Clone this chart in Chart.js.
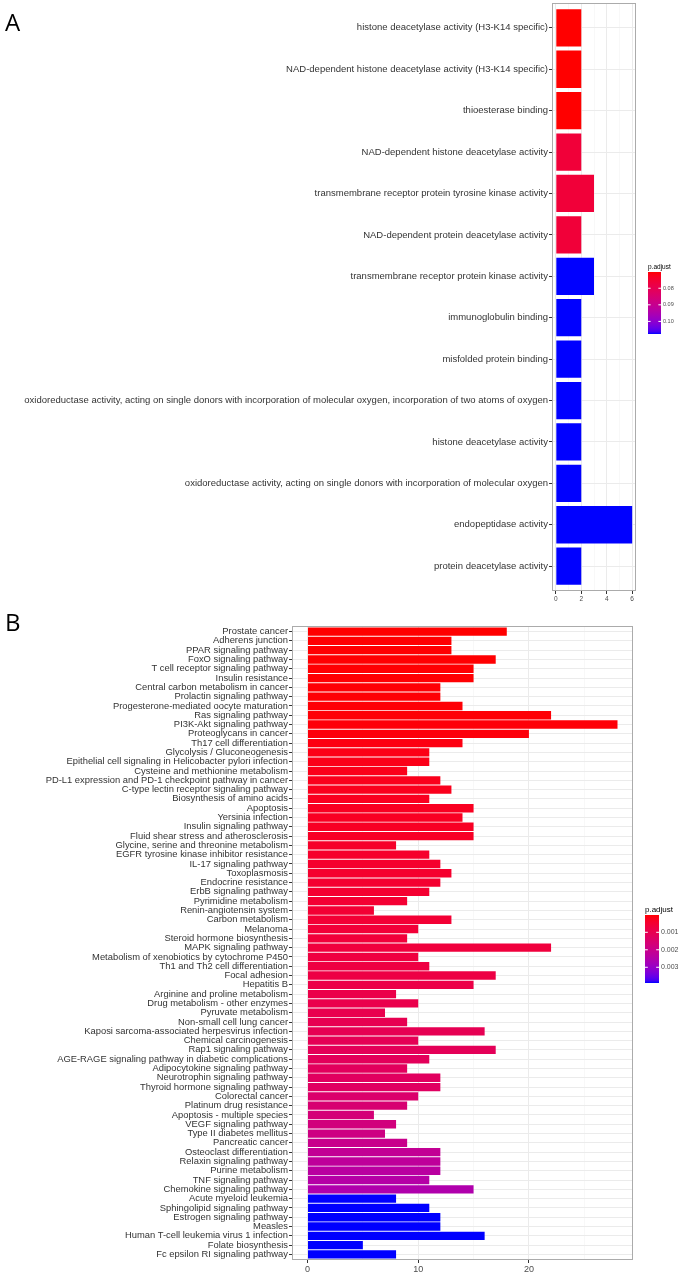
<!DOCTYPE html>
<html>
<head>
<meta charset="utf-8">
<script src="https://cdn.jsdelivr.net/npm/chart.js@4.4.1/dist/chart.umd.min.js"></script>
<style>
  html, body { margin: 0; padding: 0; background: #fff; }
  body { width: 681px; height: 1274px; position: relative; overflow: hidden; }
  .panel { position: absolute; left: 0; width: 681px; }
  .tag { position: absolute; left: 5px; font: 24px "Open Sans", sans-serif; line-height: 1; color: #000; }
</style>
</head>
<body>
<div class="panel" style="top:0;height:606px"><canvas id="chartA"></canvas></div>
<div class="panel" style="top:606px;height:668px"><canvas id="chartB"></canvas></div>
<div class="tag" style="top:10px">A</div>
<div class="tag" style="top:610px">B</div>
<script>
// ---- panel A: GO terms ----
var goTerms = [
    "histone deacetylase activity (H3-K14 specific)",
    "NAD-dependent histone deacetylase activity (H3-K14 specific)",
    "thioesterase binding",
    "NAD-dependent histone deacetylase activity",
    "transmembrane receptor protein tyrosine kinase activity",
    "NAD-dependent protein deacetylase activity",
    "transmembrane receptor protein kinase activity",
    "immunoglobulin binding",
    "misfolded protein binding",
    "oxidoreductase activity, acting on single donors with incorporation of molecular oxygen, incorporation of two atoms of oxygen",
    "histone deacetylase activity",
    "oxidoreductase activity, acting on single donors with incorporation of molecular oxygen",
    "endopeptidase activity",
    "protein deacetylase activity"
];
var goCounts = [2, 2, 2, 2, 3, 2, 3, 2, 2, 2, 2, 2, 6, 2];
var goPadj = [0.0702, 0.0702, 0.0702, 0.0760, 0.0760, 0.0760, 0.1076, 0.1076,
              0.1076, 0.1076, 0.1076, 0.1076, 0.1076, 0.1076];
var goTicks = [0, 2, 4, 6];
var goLegendTicks = [0.08, 0.09, 0.10];

// ---- panel B: KEGG pathways ----
var keggPathways = [
    "Prostate cancer", "Adherens junction", "PPAR signaling pathway", "FoxO signaling pathway",
    "T cell receptor signaling pathway", "Insulin resistance", "Central carbon metabolism in cancer",
    "Prolactin signaling pathway", "Progesterone-mediated oocyte maturation", "Ras signaling pathway",
    "PI3K-Akt signaling pathway", "Proteoglycans in cancer", "Th17 cell differentiation",
    "Glycolysis / Gluconeogenesis", "Epithelial cell signaling in Helicobacter pylori infection",
    "Cysteine and methionine metabolism", "PD-L1 expression and PD-1 checkpoint pathway in cancer",
    "C-type lectin receptor signaling pathway", "Biosynthesis of amino acids", "Apoptosis",
    "Yersinia infection", "Insulin signaling pathway", "Fluid shear stress and atherosclerosis",
    "Glycine, serine and threonine metabolism", "EGFR tyrosine kinase inhibitor resistance",
    "IL-17 signaling pathway", "Toxoplasmosis", "Endocrine resistance", "ErbB signaling pathway",
    "Pyrimidine metabolism", "Renin-angiotensin system", "Carbon metabolism", "Melanoma",
    "Steroid hormone biosynthesis", "MAPK signaling pathway",
    "Metabolism of xenobiotics by cytochrome P450", "Th1 and Th2 cell differentiation",
    "Focal adhesion", "Hepatitis B", "Arginine and proline metabolism",
    "Drug metabolism - other enzymes", "Pyruvate metabolism", "Non-small cell lung cancer",
    "Kaposi sarcoma-associated herpesvirus infection", "Chemical carcinogenesis",
    "Rap1 signaling pathway", "AGE-RAGE signaling pathway in diabetic complications",
    "Adipocytokine signaling pathway", "Neurotrophin signaling pathway",
    "Thyroid hormone signaling pathway", "Colorectal cancer", "Platinum drug resistance",
    "Apoptosis - multiple species", "VEGF signaling pathway", "Type II diabetes mellitus",
    "Pancreatic cancer", "Osteoclast differentiation", "Relaxin signaling pathway",
    "Purine metabolism", "TNF signaling pathway", "Chemokine signaling pathway",
    "Acute myeloid leukemia", "Sphingolipid signaling pathway", "Estrogen signaling pathway",
    "Measles", "Human T-cell leukemia virus 1 infection", "Folate biosynthesis",
    "Fc epsilon RI signaling pathway"
];
var keggCounts = [18, 13, 13, 17, 15, 15, 12, 12, 14, 22, 28, 20, 14, 11, 11, 9, 12, 13, 11, 15,
                  14, 15, 15, 8, 11, 12, 13, 12, 11, 9, 6, 13, 10, 9, 22, 10, 11, 17, 15, 8,
                  10, 7, 9, 16, 10, 17, 11, 9, 12, 12, 10, 9, 6, 8, 7, 9, 12, 12, 12, 11,
                  15, 8, 11, 12, 12, 16, 5, 8];
var keggPadj = [0.00001, 0.00002, 0.00002, 0.00002, 0.00003, 0.00003, 0.00004, 0.00004,
                0.00005, 0.00005, 0.00006, 0.00008, 0.00012, 0.00016, 0.00018, 0.00020,
                0.00022, 0.00024, 0.00026, 0.00028, 0.00030, 0.00032, 0.00034, 0.00040,
                0.00042, 0.00044, 0.00046, 0.00048, 0.00050, 0.00052, 0.00054, 0.00056,
                0.00060, 0.00064, 0.00068, 0.00072, 0.00076, 0.00080, 0.00084, 0.00088,
                0.00092, 0.00096, 0.00100, 0.00104, 0.00108, 0.00112, 0.00116, 0.00120,
                0.00124, 0.00128, 0.00145, 0.00155, 0.00165, 0.00175, 0.00185, 0.00200,
                0.00215, 0.00225, 0.00235, 0.00245, 0.00255, 0.00390, 0.00390, 0.00390,
                0.00390, 0.00390, 0.00390, 0.00390];
var keggTicks = [0, 10, 20];
var keggLegendTicks = [0.001, 0.002, 0.003];

// red -> blue ramp interpolated in CIELAB (like ggplot's gradient)
function toLinear(c) { c = c / 255; return c <= 0.04045 ? c / 12.92 : Math.pow((c + 0.055) / 1.055, 2.4); }
function fromLinear(c) {
    c = Math.max(0, Math.min(1, c));
    return Math.round(255 * (c <= 0.0031308 ? 12.92 * c : 1.055 * Math.pow(c, 1 / 2.4) - 0.055));
}
function rgbToLab(rgb) {
    var r = toLinear(rgb[0]), g = toLinear(rgb[1]), b = toLinear(rgb[2]);
    var x = (0.4124 * r + 0.3576 * g + 0.1805 * b) / 0.95047;
    var y = 0.2126 * r + 0.7152 * g + 0.0722 * b;
    var z = (0.0193 * r + 0.1192 * g + 0.9505 * b) / 1.08883;
    var f = function (t) { return t > 0.008856 ? Math.cbrt(t) : 7.787 * t + 16 / 116; };
    return [116 * f(y) - 16, 500 * (f(x) - f(y)), 200 * (f(y) - f(z))];
}
function labToRgb(lab) {
    var fy = (lab[0] + 16) / 116, fx = fy + lab[1] / 500, fz = fy - lab[2] / 200;
    var inv = function (t) { return t > 0.206893 ? t * t * t : (t - 16 / 116) / 7.787; };
    var x = inv(fx) * 0.95047, y = inv(fy), z = inv(fz) * 1.08883;
    var r = 3.2406 * x - 1.5372 * y - 0.4986 * z;
    var g = -0.9689 * x + 1.8758 * y + 0.0415 * z;
    var b = 0.0557 * x - 0.2040 * y + 1.0570 * z;
    return 'rgb(' + fromLinear(r) + ',' + fromLinear(g) + ',' + fromLinear(b) + ')';
}
var LOW = rgbToLab([255, 0, 0]), HIGH = rgbToLab([0, 0, 255]);
function rampColor(t) {
    return labToRgb([0, 1, 2].map(function (k) { return LOW[k] + (HIGH[k] - LOW[k]) * t; }));
}

var FONT = '"Liberation Sans", Arial, sans-serif';

// panel border drawn on top, like theme_bw
var framePlugin = {
    id: 'frame',
    afterDatasetsDraw: function (chart) {
        var a = chart.chartArea, ctx = chart.ctx;
        ctx.save();
        ctx.strokeStyle = '#ABABAB';
        ctx.lineWidth = 1;
        ctx.strokeRect(a.left + 0.5, a.top + 0.5, a.right - a.left - 1, a.bottom - a.top - 1);
        ctx.restore();
    }
};

// p.adjust colour bar
var colorbarPlugin = {
    id: 'colorbar',
    afterDraw: function (chart, args, o) {
        var ctx = chart.ctx;
        ctx.save();
        var grad = ctx.createLinearGradient(0, o.y, 0, o.y + o.h);
        for (var i = 0; i <= 30; i++) grad.addColorStop(i / 30, rampColor(i / 30));
        ctx.fillStyle = grad;
        ctx.fillRect(o.x, o.y, o.w, o.h);

        ctx.fillStyle = '#000';
        ctx.font = o.titleSize + 'px ' + FONT;
        ctx.textAlign = 'left';
        ctx.textBaseline = 'alphabetic';
        ctx.fillText('p.adjust', o.x, o.y - o.titleGap);

        ctx.font = o.labelSize + 'px ' + FONT;
        ctx.fillStyle = '#4D4D4D';
        ctx.textBaseline = 'middle';
        ctx.strokeStyle = '#fff';
        ctx.lineWidth = 1;
        o.ticks.forEach(function (v) {
            var yy = o.y + (v - o.min) / (o.max - o.min) * o.h;
            ctx.beginPath();
            ctx.moveTo(o.x, yy); ctx.lineTo(o.x + o.w / 5, yy);
            ctx.moveTo(o.x + o.w, yy); ctx.lineTo(o.x + o.w * 4 / 5, yy);
            ctx.stroke();
            ctx.fillText(v.toFixed(o.digits), o.x + o.w + 2, yy);
        });
        ctx.restore();
    }
};

function makeChart(id, cats, counts, padj, cfg) {
    var lo = Math.min.apply(null, padj), hi = Math.max.apply(null, padj);
    var colors = padj.map(function (p) { return rampColor((p - lo) / (hi - lo)); });
    var n = cats.length;
    var bar = cfg.colorbar;
    bar.min = lo; bar.max = hi;

    return new Chart(document.getElementById(id), {
        type: 'bar',
        data: {
            datasets: [{
                data: counts.map(function (v, i) { return { x: v, y: i }; }),
                backgroundColor: colors,
                borderWidth: 0,
                barPercentage: 0.9,
                categoryPercentage: 1
            }]
        },
        options: {
            indexAxis: 'y',
            animation: false,
            responsive: true,
            maintainAspectRatio: false,
            layout: { padding: cfg.padding },
            plugins: {
                legend: { display: false },
                tooltip: { enabled: false },
                colorbar: bar
            },
            scales: {
                x: {
                    type: 'linear',
                    min: cfg.xMin,
                    max: cfg.xMax,
                    offset: false,
                    afterBuildTicks: function (s) {
                        s.ticks = cfg.xGrid.map(function (v) { return { value: v }; });
                    },
                    afterFit: function (s) { s.height = cfg.xHeight; },
                    ticks: {
                        autoSkip: false,
                        maxRotation: 0,
                        padding: 1,
                        color: '#4D4D4D',
                        font: { family: FONT, size: cfg.xFont },
                        callback: function (v) { return cfg.xMajor.indexOf(v) >= 0 ? String(v) : ''; }
                    },
                    grid: {
                        offset: false,
                        color: function (c) { return cfg.xMajor.indexOf(c.tick.value) >= 0 ? '#EBEBEB' : '#F3F3F3'; },
                        lineWidth: function (c) { return cfg.xMajor.indexOf(c.tick.value) >= 0 ? 1 : 0.6; },
                        tickLength: 3,
                        tickWidth: 1,
                        tickColor: function (c) { return cfg.xMajor.indexOf(c.tick.value) >= 0 ? '#333' : 'rgba(0,0,0,0)'; }
                    },
                    border: { display: false }
                },
                y: {
                    type: 'linear',
                    reverse: true,
                    min: -0.6,
                    max: n - 0.4,
                    offset: false,
                    afterBuildTicks: function (s) {
                        s.ticks = cats.map(function (c, i) { return { value: i }; });
                    },
                    afterFit: function (s) {
                        s.width = cfg.yWidth;
                        s.paddingTop = 0;
                        s.paddingBottom = 0;
                    },
                    ticks: {
                        autoSkip: false,
                        padding: 1,
                        color: '#333',
                        font: { family: FONT, size: cfg.yFont },
                        callback: function (v) { return cats[v]; }
                    },
                    grid: {
                        offset: false,
                        color: '#EBEBEB',
                        lineWidth: 1,
                        tickLength: 3,
                        tickWidth: 1,
                        tickColor: '#333'
                    },
                    border: { display: false }
                }
            }
        },
        plugins: [framePlugin, colorbarPlugin]
    });
}

makeChart('chartA', goTerms, goCounts, goPadj, {
    padding: { top: 3, right: 45, bottom: 0, left: 0 },
    xMin: -0.3, xMax: 6.3,
    xGrid: [0, 1, 2, 3, 4, 5, 6],
    xMajor: goTicks,
    xHeight: 15,
    yWidth: 552,
    xFont: 6.5,
    yFont: 9.5,
    colorbar: { x: 648, y: 272, w: 13, h: 62, titleSize: 6.5, titleGap: 3, labelSize: 5.5, digits: 2, ticks: goLegendTicks }
});

makeChart('chartB', keggPathways, keggCounts, keggPadj, {
    padding: { top: 20, right: 48, bottom: 0, left: 0 },
    xMin: -1.4, xMax: 29.4,
    xGrid: [0, 5, 10, 15, 20, 25],
    xMajor: keggTicks,
    xHeight: 14,
    yWidth: 292,
    xFont: 9,
    yFont: 9.4,
    colorbar: { x: 645, y: 309, w: 14, h: 68, titleSize: 8, titleGap: 3, labelSize: 7, digits: 3, ticks: keggLegendTicks }
});
</script>
</body>
</html>
